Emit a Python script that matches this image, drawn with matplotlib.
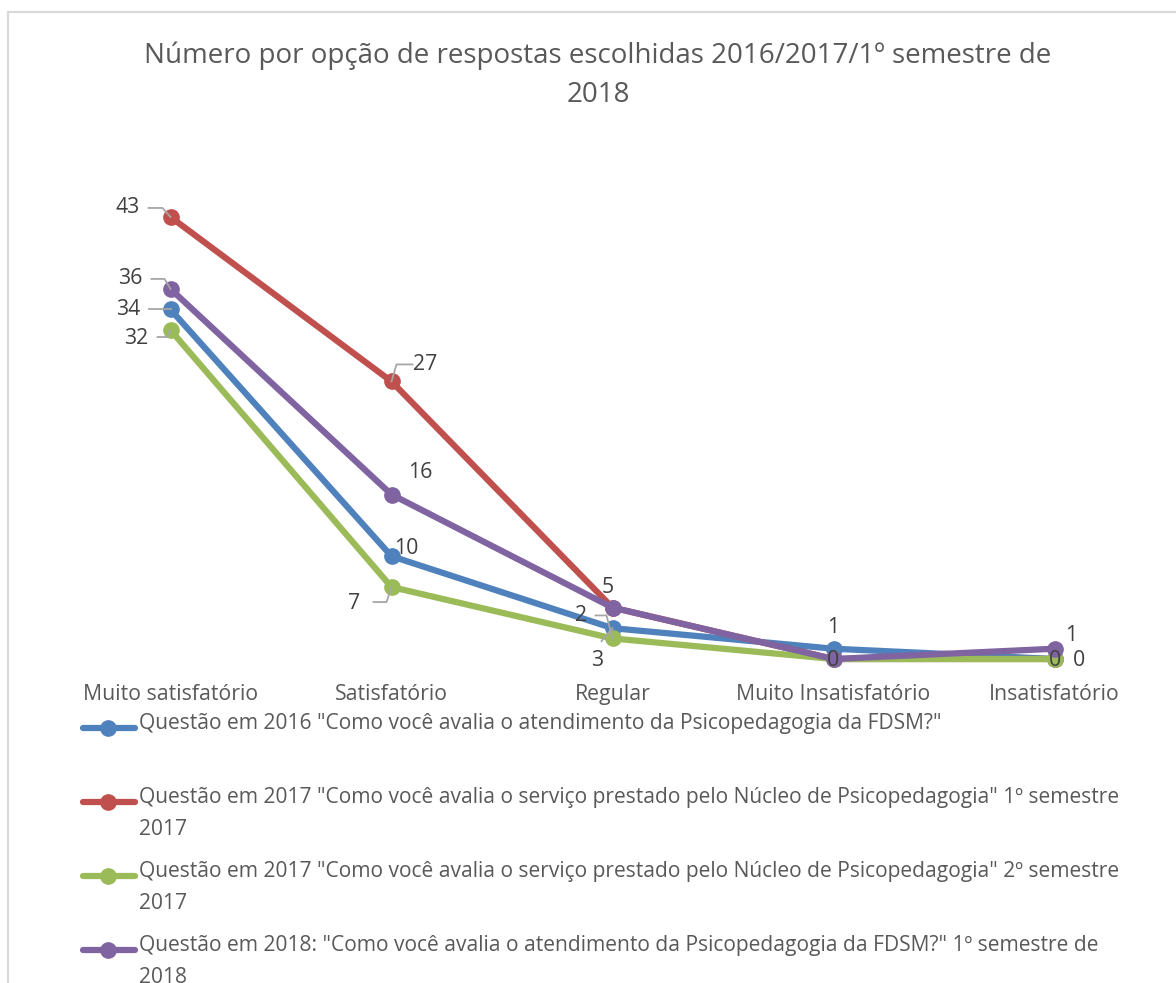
import matplotlib
matplotlib.use("Agg")
import matplotlib.pyplot as plt
from matplotlib.lines import Line2D
from matplotlib.transforms import IdentityTransform

categories = ["Muito satisfatório", "Satisfatório", "Regular", "Muito Insatisfatório", "Insatisfatório"]
s2016 = [34, 10, 3, 1, 0]
s2017_1 = [43, 27, 5, 0, 0]
s2017_2 = [32, 7, 2, 0, 0]
s2018 = [36, 16, 5, 0, 1]
series_labels = [
    'Questão em 2016 "Como você avalia o atendimento da Psicopedagogia da FDSM?"',
    'Questão em 2017 "Como você avalia o serviço prestado pelo Núcleo de Psicopedagogia" 1º semestre\n2017',
    'Questão em 2017 "Como você avalia o serviço prestado pelo Núcleo de Psicopedagogia" 2º semestre\n2017',
    'Questão em 2018: "Como você avalia o atendimento da Psicopedagogia da FDSM?" 1º semestre de\n2018',
]
title = "Número por opção de respostas escolhidas 2016/2017/1º semestre de\n2018"

colors = ["#4F81BD", "#C0504D", "#9BBB59", "#8064A2"]
series = [s2016, s2017_1, s2017_2, s2018]

plt.rcParams['font.family'] = ['Open Sans', 'DejaVu Sans']
W, H = 1176, 983
fig = plt.figure(figsize=(W / 100, H / 100), dpi=100)
fig.patch.set_facecolor("white")

def fx(px):
    return px / W

def fy(py):
    return 1 - py / H

# chart border (light gray), top and left edges visible
fig.add_artist(Line2D([fx(8), 1.01], [fy(12), fy(12)], transform=fig.transFigure,
                      color="#D9D9D9", linewidth=1.5))
fig.add_artist(Line2D([fx(8), fx(8)], [fy(12), -0.01], transform=fig.transFigure,
                      color="#D9D9D9", linewidth=1.5))

ax = fig.add_axes([fx(60), fy(659), fx(1165) - fx(60), fy(145) - fy(659)])
ax.set_xlim(-0.5, len(categories) - 0.5)
ax.set_ylim(0, 50)
for sp in ax.spines.values():
    sp.set_visible(False)
ax.set_yticks([])
ax.set_xticks(range(len(categories)))
ax.set_xticklabels(categories, fontsize=15.3, color="#595959")
ax.tick_params(axis="x", length=0, pad=18)
ax.patch.set_alpha(0)

x = list(range(len(categories)))
for vals, c in zip(series, colors):
    ax.plot(x, vals, color=c, linewidth=4.5, marker="o", markersize=11,
            solid_capstyle="round", clip_on=False)

fig.text(fx(598), fy(75), title, ha="center", va="center", fontsize=20,
         color="#595959", linespacing=1.5)

# data labels (pixel offsets relative to point) and leader lines
lab_color = "#404040"
lead_color = "#A6A6A6"
labels = [
    # (series index, category index, text, dx, dy, leader offsets)
    (1, 0, "43", -43, 9, [(-22, 9), (-8, 9), (0, 0)]),
    (3, 0, "36", -40, 10, [(-19, 10), (-6, 10), (0, 0)]),
    (0, 0, "34", -42, 0, [(-22, 0), (0, 0)]),
    (2, 0, "32", -34, -8, [(-13, -7), (-3, -7), (0, 0)]),
    (1, 1, "27", 34, 17, [(21, 17), (5, 17), (0, 0)]),
    (3, 1, "16", 29, 22, None),
    (0, 1, "10", 15, 8, None),
    (2, 1, "7", -37, -16, [(-18, -15), (-5, -15), (0, 0)]),
    (1, 2, "5", -5, 20, None),
    (2, 2, "2", -31, 23, [(-17, 23), (-6, 23), (0, 0)]),
    (0, 2, "3", -15, -32, [(-11, -13), (0, 0)]),
    (0, 3, "1", 0, 21, None),
    (2, 3, "0", 0, -1, None),
    (3, 4, "1", 17, 13, None),
    (0, 4, "0", 0, -1, None),
    (2, 4, "0", 24, -1, None),
]
fig.canvas.draw()
for si, ci, txt, dx, dy, lead in labels:
    px, py = ax.transData.transform((ci, series[si][ci]))
    ax.annotate(txt, xy=(ci, series[si][ci]), xytext=(dx, dy),
                textcoords="offset pixels", ha="center", va="center",
                fontsize=15.3, color=lab_color, annotation_clip=False, zorder=6)
    if lead:
        xs = [px + a for a, b in lead]
        ys = [py + b for a, b in lead]
        fig.add_artist(Line2D(xs, ys, transform=IdentityTransform(),
                              color=lead_color, linewidth=1.3, zorder=5))

# legend (one entry per row)
leg_rows = [728, 802, 876, 950]
for lab, c, yrow in zip(series_labels, colors, leg_rows):
    fig.add_artist(Line2D([fx(83), fx(135)], [fy(yrow), fy(yrow)],
                          transform=fig.transFigure, color=c, linewidth=4.5,
                          solid_capstyle="round"))
    fig.add_artist(Line2D([fx(108)], [fy(yrow)], transform=fig.transFigure,
                          color=c, marker="o", markersize=11, linestyle="none"))
    fig.text(fx(139), fy(yrow - 15), lab, ha="left", va="top", fontsize=15.1,
             color="#595959", linespacing=1.7)

fig.savefig("out.png", dpi=100)
